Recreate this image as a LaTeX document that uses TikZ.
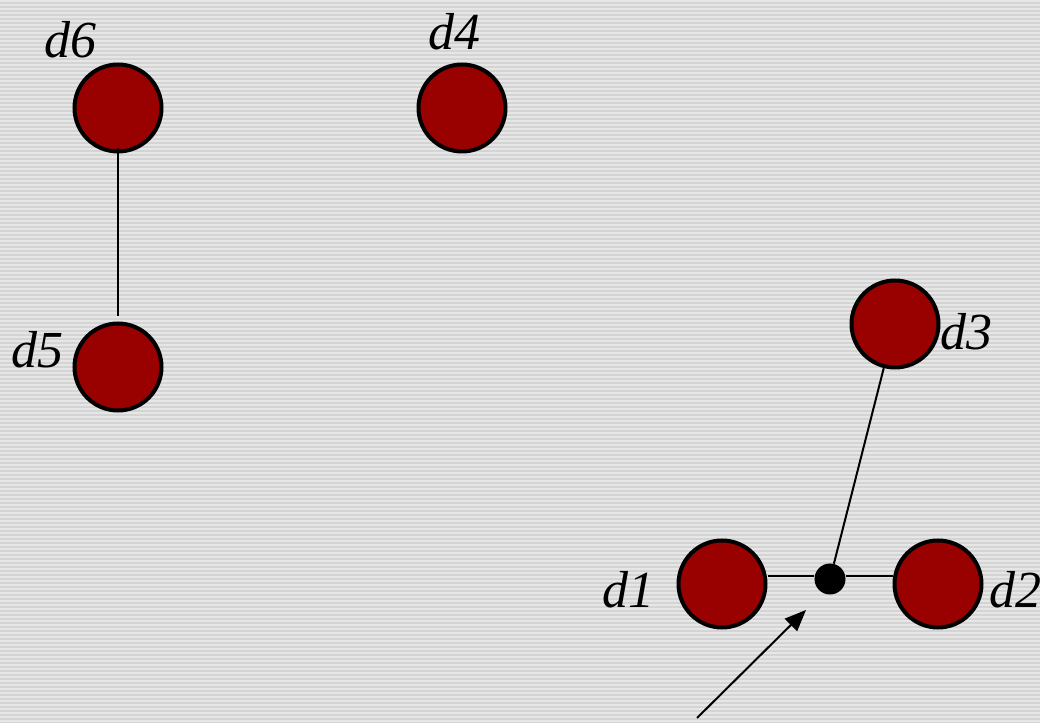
\documentclass[tikz,border=0pt]{standalone}
\usepackage{fontspec}
\setmainfont{Liberation Serif}
\usetikzlibrary{arrows.meta}
\definecolor{bgA}{RGB}{212,212,212}
\definecolor{bgB}{RGB}{230,230,230}
\definecolor{dred}{RGB}{153,0,0}
\tikzset{
  dot/.style={circle,draw=black,line width=3pt,fill=dred,minimum size=87*0.75pt,inner sep=0pt},
  junction/.style={circle,fill=black,minimum size=31*0.75pt,inner sep=0pt},
  lbl/.style={font=\fontsize{39}{41}\selectfont\itshape,inner sep=0pt},
  conn/.style={line width=1.5pt,black}
}
\begin{document}
\begin{tikzpicture}[x=0.75pt,y=-0.75pt]
\useasboundingbox (0,0) rectangle (1040,723);
\fill[bgA] (0,0) rectangle (1040,723);
\foreach \i in {0,...,180}{
  \fill[bgB] (0,\i*4) rectangle (1040,\i*4+2);
}
\node[dot] (d6) at (118,108) {};
\node[dot] (d4) at (462,108) {};
\node[dot] (d5) at (118,367) {};
\node[dot] (d3) at (895,324) {};
\node[dot] (d1) at (722,584) {};
\node[dot] (d2) at (938,584) {};
\node[junction] (j) at (830,579) {};
\coordinate (s) at (697,718);
\coordinate (t) at (806,610);
\node[lbl] (l6) at (71,40) {d6};
\node[lbl] (l4) at (454,32) {d4};
\node[lbl] (l5) at (38,350) {d5};
\node[lbl] (l3) at (966,332) {d3};
\node[lbl] (l1) at (628,590) {d1};
\node[lbl] (l2) at (1015,590) {d2};
\draw[conn] ([yshift=4]d6.south) -- ([yshift=4]d5.north);
\draw[conn] (j.west|-0,576) -- (d1.east|-0,576);
\draw[conn] (j.east|-0,576) -- (d2.west|-0,576);
\draw[conn] (j) -- (d3);
\draw[line width=1.5pt,-{Triangle[length=16pt,width=13pt]}] (s) -- (t);
\end{tikzpicture}
\end{document}
